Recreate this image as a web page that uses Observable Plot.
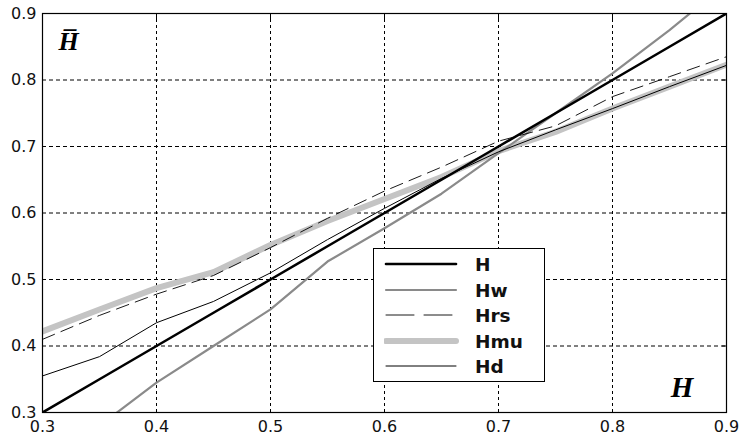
<!DOCTYPE html>
<html>
<head>
<meta charset="utf-8">
<script src="https://cdn.jsdelivr.net/npm/d3@7"></script>
<script src="https://cdn.jsdelivr.net/npm/@observablehq/plot@0.6"></script>
<style>
  body { margin: 0; background: #fff; }
  #wrap { position: relative; width: 739px; height: 436px; }
  #legend { position: absolute; left: 373px; top: 248px; width: 172px; height: 134px;
    border: 1px solid #000; background: #fff; box-sizing: border-box;
    font-family: "DejaVu Sans", sans-serif; font-weight: bold; font-size: 18.5px; color: #111; }
  .row { position: absolute; left: 0; height: 26px; width: 100%; }
  .row svg { position: absolute; left: 10px; top: 0; }
  .row span { position: absolute; left: 101px; top: 2px; line-height: 22px; }
</style>
</head>
<body>
<div id="wrap"></div>
<script>
const xs = [0.30, 0.35, 0.40, 0.45, 0.50, 0.55, 0.60, 0.65, 0.70, 0.75, 0.80, 0.85, 0.90];
const H   = [0.30, 0.35, 0.40, 0.45, 0.50, 0.55, 0.60, 0.65, 0.70, 0.75, 0.80, 0.85, 0.90];
const Hw  = [0.22, 0.28, 0.345, 0.40, 0.455, 0.527, 0.577, 0.629, 0.69, 0.75, 0.81, 0.875, 0.945];
const Hrs = [0.41, 0.446, 0.478, 0.506, 0.548, 0.592, 0.633, 0.669, 0.708, 0.731, 0.775, 0.805, 0.835];
const Hmu = [0.422, 0.455, 0.487, 0.511, 0.552, 0.588, 0.621, 0.654, 0.693, 0.722, 0.757, 0.79, 0.823];
const Hd  = [0.355, 0.384, 0.435, 0.467, 0.51, 0.56, 0.607, 0.652, 0.692, 0.725, 0.757, 0.79, 0.822];
const ticks = [0.3, 0.4, 0.5, 0.6, 0.7, 0.8, 0.9];
const seriesNames = ["H", "Hw", "Hrs", "Hmu", "Hd"];
const seriesValues = {H, Hw, Hrs, Hmu, Hd};
const styles = {
  H:   {stroke: "#000", strokeWidth: 2.6},
  Hw:  {stroke: "#8a8a8a", strokeWidth: 2.2},
  Hrs: {stroke: "#000", strokeWidth: 0.9, strokeDasharray: "13,7"},
  Hmu: {stroke: "#c4c4c4", strokeWidth: 6},
  Hd:  {stroke: "#000", strokeWidth: 1}
};
const drawOrder = ["Hmu", "Hw", "H", "Hrs", "Hd"];
const rows = (name) => xs.map((x, i) => ({x, y: seriesValues[name][i]}));

const font = "DejaVu Sans, sans-serif";
const chart = Plot.plot({
  width: 739, height: 436,
  marginLeft: 42, marginRight: 13, marginTop: 13, marginBottom: 24,
  x: {domain: [0.3, 0.9], label: null},
  y: {domain: [0.3, 0.9], label: null},
  style: {fontFamily: font, background: "#fff"},
  marks: [
    Plot.gridX(ticks, {stroke: "#000", strokeOpacity: 1, strokeWidth: 1, strokeDasharray: "3,3"}),
    Plot.gridY(ticks, {stroke: "#000", strokeOpacity: 1, strokeWidth: 1, strokeDasharray: "4,3"}),
    ...drawOrder.map(n => Plot.line(rows(n), {x: "x", y: "y", ...styles[n], clip: true})),
    Plot.frame({stroke: "#000", strokeWidth: 1.2}),
    Plot.axisX(ticks, {tickSize: 0, tickPadding: 8, tickFormat: ".1f", fontSize: 16, fill: "#111", label: null}),
    Plot.axisY(ticks, {tickSize: 0, tickPadding: 6, tickFormat: ".1f", fontSize: 16, fill: "#111", label: null}),
    Plot.axisY(ticks, {anchor: "right", tickSize: -5, text: null, stroke: "#000", label: null}),
    Plot.axisX(ticks, {anchor: "top", tickSize: -5, text: null, stroke: "#000", label: null}),
    Plot.text(["H\u0305"], {x: 0.314, y: 0.858, fontSize: 26, fontWeight: "bold", fontStyle: "italic",
      fontFamily: "Liberation Serif, Times New Roman, serif", fill: "#000", textAnchor: "start"}),
    Plot.text(["H"], {x: 0.851, y: 0.337, fontSize: 29, fontWeight: "bold", fontStyle: "italic",
      fontFamily: "Liberation Serif, Times New Roman, serif", fill: "#000", textAnchor: "start"})
  ]
});
const wrap = document.getElementById("wrap");
wrap.appendChild(chart);

const legend = document.createElement("div");
legend.id = "legend";
seriesNames.forEach((n, i) => {
  const row = document.createElement("div");
  row.className = "row";
  row.style.top = (3 + i * 25.5) + "px";
  const s = styles[n];
  row.innerHTML = `<svg width="80" height="26"><line x1="2" x2="72" y1="12" y2="12" stroke="${s.stroke}" stroke-width="${s.strokeWidth}" ${s.strokeDasharray ? `stroke-dasharray="28,10"` : ""} stroke-linecap="round"/></svg><span>${n}</span>`;
  legend.appendChild(row);
});
wrap.appendChild(legend);
</script>
</body>
</html>
